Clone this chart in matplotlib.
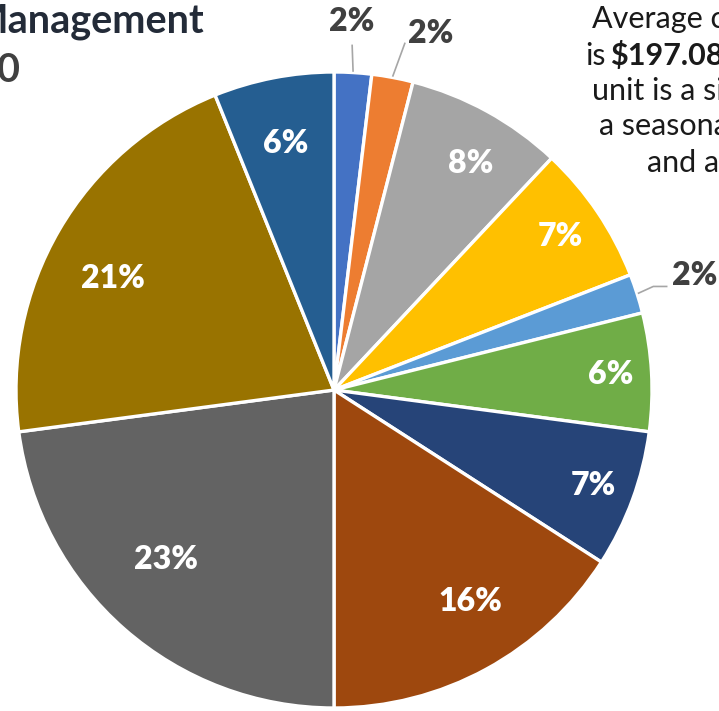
import matplotlib
matplotlib.use("Agg")
import matplotlib.pyplot as plt
import numpy as np

# Anteile der Kostenpositionen (im Uhrzeigersinn ab 12 Uhr)
werte = [1.9, 2.1, 8.0, 7.1, 2.0, 6.0, 7.0, 15.9, 22.9, 21.0, 6.1]
beschriftung = ["2%", "2%", "8%", "7%", "2%", "6%", "7%", "16%", "23%", "21%", "6%"]
farben = ["#4472C4", "#ED7D31", "#A5A5A5", "#FFC000", "#5B9BD5", "#70AD47",
          "#264478", "#9E480E", "#636363", "#997300", "#255E91"]

titel_zeile1 = "Management"
titel_zeile2 = "0"
notiz_zeilen = ["Average c", "is", "unit is a si", "a seasona", "and a"]
notiz_betrag = r"\$197.08"

# Abstand der Beschriftung vom Mittelpunkt (Anteil des Radius) und Winkelversatz
label_r = [1.16, 1.16, 0.83, 0.86, 1.19, 0.87, 0.87, 0.79, 0.75, 0.78, 0.79]
label_dw = [0.6, -4.5, -2.3, 0, 0, 0, 0, 4.2, -3.5, 3.5, 0]
# Führungslinien für die außen liegenden Beschriftungen
fuehrung = {0: [(0.0, -0.075)], 1: [(-0.08, -0.03)],
            4: [(-0.13, -0.035), (-0.088, -0.035)]}

W, H = 719, 711
fig = plt.figure(figsize=(W / 100, H / 100), dpi=100)
cx, cy, r = 334, 390, 318
ax = fig.add_axes([(cx - r) / W, (H - cy - r) / H, 2 * r / W, 2 * r / H])

wedges, _ = ax.pie(werte, colors=farben, startangle=90, counterclock=False,
                   wedgeprops=dict(edgecolor="white", linewidth=2.4))
ax.set_xlim(-1, 1)
ax.set_ylim(-1, 1)
ax.set_aspect("equal")
ax.axis("off")

for i, w in enumerate(wedges):
    mitte = np.deg2rad((w.theta1 + w.theta2) / 2)
    ang = mitte + np.deg2rad(label_dw[i])
    lx, ly = label_r[i] * np.cos(ang), label_r[i] * np.sin(ang)
    aussen = label_r[i] > 1
    ax.text(lx, ly, beschriftung[i], ha="center", va="center",
            fontsize=23, fontweight="heavy", family="Lato",
            color="#404040" if aussen else "white", clip_on=False)
    if i in fuehrung:
        px = [1.005 * np.cos(mitte)]
        py = [1.005 * np.sin(mitte)]
        for dx, dy in fuehrung[i]:
            px.append(lx + dx)
            py.append(ly + dy)
        ax.plot(px, py, color="#A6A6A6", lw=1.2, clip_on=False)

# Titel (links oben, vom Rand abgeschnitten)
fig.text(205 / W, 1 - 33 / H, titel_zeile1, ha="right", va="baseline",
         fontsize=28.5, fontweight="bold", family="Lato", color="#232B38")
fig.text(20 / W, 1 - 82 / H, titel_zeile2, ha="right", va="baseline",
         fontsize=28.5, fontweight="bold", family="Lato", color="#404040")

# Notiz rechts oben
zeilen_x = [592, 585, 592, 599, 647]
zeilen_y = [28, 65, 100, 135, 172]
for txt, x, y in zip(notiz_zeilen, zeilen_x, zeilen_y):
    fig.text(x / W, 1 - y / H, txt, ha="left", va="baseline",
             fontsize=22, family="Lato", color="#1A1A1A")
fig.text(610 / W, 1 - 65 / H, notiz_betrag, ha="left", va="baseline",
         fontsize=22, fontweight="bold", family="Lato", color="#1A1A1A")

fig.savefig("out.png", dpi=100)
